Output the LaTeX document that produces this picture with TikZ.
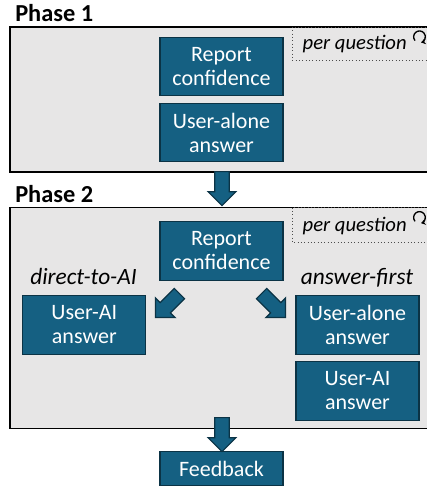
\documentclass[tikz,border=0pt]{standalone}
\usepackage{fontspec}
\setmainfont{Carlito}
\usetikzlibrary{shapes.arrows,arrows.meta}
\definecolor{boxblue}{HTML}{156082}
\definecolor{boxline}{HTML}{0B3345}
\definecolor{panelgray}{HTML}{E7E6E6}

\begin{document}
\begin{tikzpicture}
[x=0.75pt,y=-0.75pt,
panel/.style={draw=black, line width=1pt, fill=panelgray},
perq/.style={draw=black!70, dotted, line width=0.5pt},
task/.style={rectangle, draw=boxline, line width=0.9pt, fill=boxblue, text=white, minimum width=92.25pt, minimum height=44pt, inner sep=0pt, align=center, font=\fontsize{16.5}{18}\selectfont},
flow/.style={single arrow, draw=boxline, line width=0.9pt, fill=boxblue, minimum height=25.5pt, inner xsep=0pt, inner ysep=5pt, single arrow head extend=5pt},
phaselabel/.style={anchor=base west, inner sep=0pt, font=\fontsize{18.3}{20}\selectfont\bfseries},
mode/.style={anchor=base, inner sep=0pt, font=\fontsize{17.5}{20}\selectfont\itshape},
loop/.style={-{Stealth[length=3.4pt,width=4.4pt]}, line width=1pt}]
\clip (0,0) rectangle (427,486);

% phase 1
\draw[panel] (10,27) rectangle (434,172);
\draw[perq] (292,27) rectangle (434,60);
\node[phaselabel] (p1) at (15,21.7) {Phase 1};
\node[anchor=base, inner sep=0pt, font=\fontsize{15.5}{18}\selectfont\itshape] (q1) at (354.7,49.5) {per question};
\draw[loop] ([shift={(220:4.4pt)}]419.5,36.8) arc[start angle=220, end angle=-75, radius=4.4pt];

\node[task] (conf1) at (221.5,66.5) {Report\\confidence};
\node[task] (alone1) at (221.5,132.5) {User-alone\\answer};

% phase 2
\draw[panel] (10,207.5) rectangle (434,428.5);
\draw[perq] (292,207.5) rectangle (434,242);
\node[phaselabel] (p2) at (15,202.7) {Phase 2};
\node[anchor=base, inner sep=0pt, font=\fontsize{15.5}{18}\selectfont\itshape] (q2) at (354.7,231) {per question};
\draw[loop] ([shift={(220:4.4pt)}]419.5,217.5) arc[start angle=220, end angle=-75, radius=4.4pt];

\node[task] (conf2) at (221.5,251) {Report\\confidence};
\node[mode] (direct) at (83.5,284.5) {direct-to-AI};
\node[mode] (first) at (357,284.5) {answer-first};
\node[task] (ai1) at (84.3,325) {User-AI\\answer};
\node[task] (alone2) at (357.5,325) {User-alone\\answer};
\node[task] (ai2) at (357.5,391) {User-AI\\answer};

% feedback
\node[task, minimum height=25pt] (fb) at (221.5,468.5) {Feedback};

% block arrows
\node[flow, rotate=-90] (a1) at (222,185) {};
\node[flow, rotate=-135] (a3) at (170,303) {};
\node[flow, rotate=-45] (a4) at (271,303) {};
\node[flow, rotate=-90] (a2) at (222,431) {};

\end{tikzpicture}
\end{document}
